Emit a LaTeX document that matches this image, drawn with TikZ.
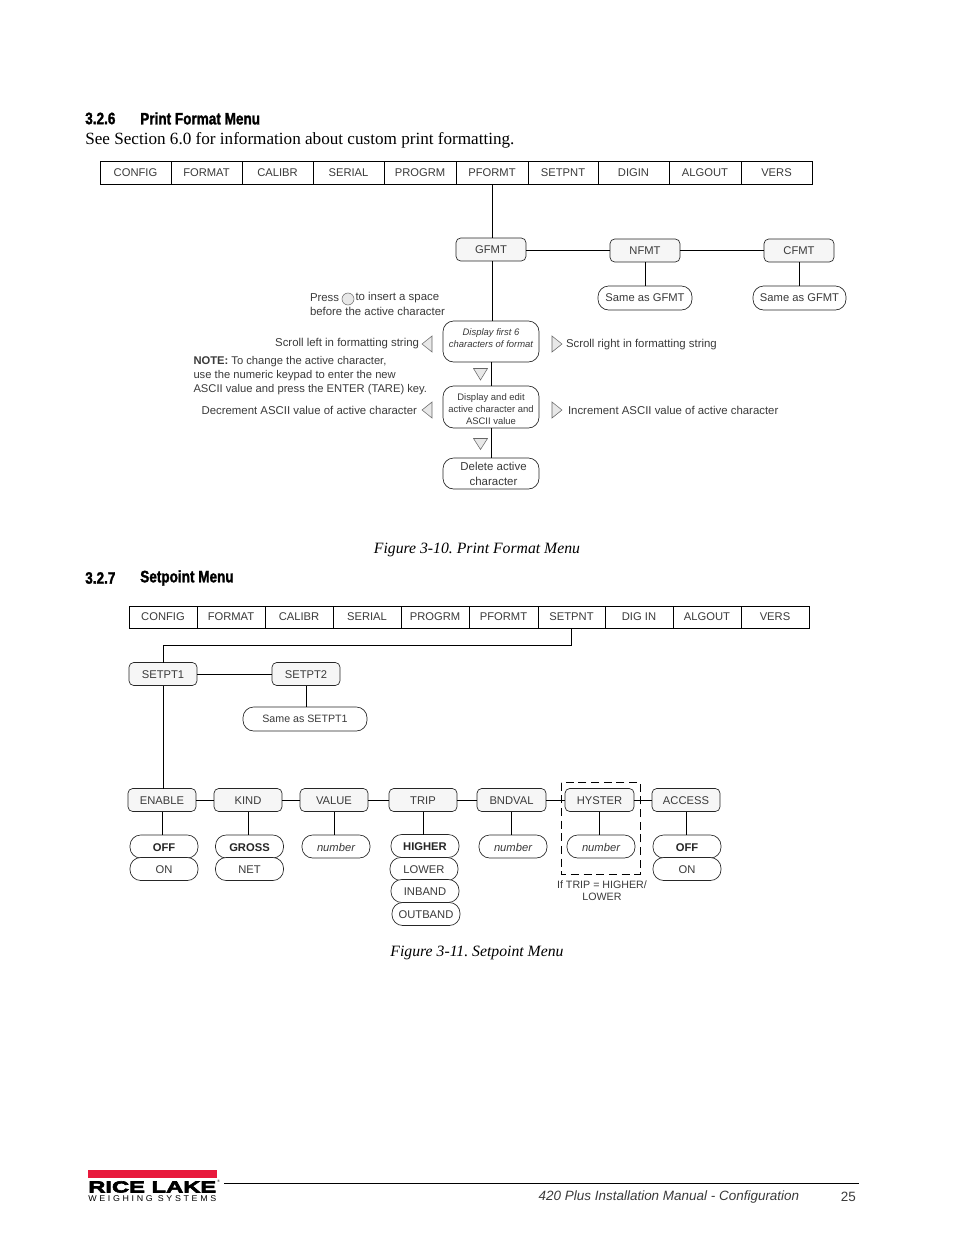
\documentclass[tikz,border=0pt]{standalone}
\usepackage{fontspec}
\usepackage{graphicx}
\setmainfont{Liberation Sans}
\newfontfamily\serifbody{Liberation Serif}
\newfontfamily\headfont[FakeStretch=0.82,FakeBold=1.6]{Liberation Sans Bold}
\newfontfamily\logofont[FakeStretch=1.5,FakeBold=4]{Liberation Sans Bold}
\newfontfamily\logosub[LetterSpace=30]{Liberation Sans}
\definecolor{ink}{HTML}{3A3A3A}
\definecolor{tri}{HTML}{E8E8E8}
\definecolor{boxfill}{HTML}{F6F6F6}
\definecolor{rlred}{HTML}{E8193C}
\frenchspacing
\tikzset{
  sz/.style 2 args={minimum width=#1*0.75pt,minimum height=#2*0.75pt},
  base/.style={inner sep=0pt,outer sep=0pt,align=center,text=ink,font=\fontsize{8.4}{10.5}\selectfont},
  cell/.style={base,draw=black,line width=0.6pt,fill=white},
  menubox/.style={base,draw=black!85,line width=0.5pt,fill=boxfill,rounded corners=3.5pt,sz={68}{23}},
  pill/.style={base,draw=black!85,line width=0.5pt,fill=white,rounded corners=8pt,sz={68}{23}},
  textlow/.style={text height=7.4pt,text depth=0pt},
  lab/.style={inner sep=0pt,outer sep=0pt,text=ink,font=\fontsize{8.55}{10.5}\selectfont},
  link/.style={draw=black,line width=0.6pt},
  keytri/.style={draw=black!60,fill=tri,line width=0.4pt},
  figcap/.style={inner sep=0pt,font=\serifbody\itshape\fontsize{11.8}{13}\selectfont},
  head/.style={inner sep=0pt,anchor=west,font=\headfont\fontsize{12.4}{14}\selectfont},
  boldv/.style={font=\bfseries\fontsize{8.4}{10.5}\selectfont,text=black!85},
  numv/.style={font=\itshape\fontsize{8.4}{10.5}\selectfont}
}
\begin{document}
\begin{tikzpicture}[x=0.75pt,y=-0.75pt]
\useasboundingbox (0,0) rectangle (954,1235);
% headings
\node[head] (h1a) at (85,118.5) {3.2.6};
\node[head] (h1b) at (140,118.5) {Print Format Menu};
\node[inner sep=0pt,anchor=west,font=\serifbody\fontsize{12.85}{14}\selectfont] (body) at (85,140) {See Section 6.0 for information about custom print formatting.};
% menu 1
\node[cell,sz={71}{23}] (a1) at (135.5,172.5) {CONFIG};
\node[cell,sz={71}{23}] (a2) at (206.5,172.5) {FORMAT};
\node[cell,sz={71}{23}] (a3) at (277.5,172.5) {CALIBR};
\node[cell,sz={71}{23}] (a4) at (348.5,172.5) {SERIAL};
\node[cell,sz={72}{23}] (a5) at (420,172.5) {PROGRM};
\node[cell,sz={72}{23}] (a6) at (492,172.5) {PFORMT};
\node[cell,sz={70}{23}] (a7) at (563,172.5) {SETPNT};
\node[cell,sz={71}{23}] (a8) at (633.5,172.5) {DIGIN};
\node[cell,sz={72}{23}] (a9) at (705,172.5) {ALGOUT};
\node[cell,sz={71}{23}] (a10) at (776.5,172.5) {VERS};
% tree 1
\node[menubox,sz={70}{23}] (gfmt) at (491,249.5) {GFMT};
\node[menubox,sz={70}{23}] (nfmt) at (645,250.5) {NFMT};
\node[menubox,sz={70}{23}] (cfmt) at (799,250.5) {CFMT};
\node[pill,sz={94}{24}] (sg1) at (645,298) {Same as GFMT};
\node[pill,sz={93}{24}] (sg2) at (799.5,298) {Same as GFMT};
\node[pill,sz={96}{41},font=\itshape\fontsize{7.1}{9}\selectfont] (disp) at (491,341.5) {Display first 6\\characters of format\rule[-4.5pt]{0pt}{0pt}};
\node[pill,sz={96}{42},font=\fontsize{7.1}{9}\selectfont] (edit) at (491,407) {\rule{0pt}{8.2pt}Display and edit\\active character and\\ASCII value};
\node[pill,sz={96}{31},font=\fontsize{8.6}{11.2}\selectfont] (del) at (491,473.5) {\hspace*{3.75pt}Delete active\\\hspace*{3.75pt}character};
\draw[link] (a6.south) -- (a6.south |- gfmt.north);
\draw[link] (gfmt.south -| a6.south) -- (disp.north -| a6.south);
\draw[link] (nfmt.west -| gfmt.east) -- (nfmt.west);
\draw[link] (nfmt.east) -- (cfmt.west);
\draw[link] (nfmt.south) -- (sg1.north);
\draw[link] (cfmt.south) -- (sg2.north -| cfmt.south);
\draw[link] (disp.south) -- (edit.north);
\draw[link] (edit.south) -- (del.north);
% key triangles
\filldraw[keytri] (473.5,368.5) -- (487.5,368.5) -- (480.5,380) -- cycle;
\filldraw[keytri] (473.5,438.5) -- (487.5,438.5) -- (480.5,449.5) -- cycle;
\filldraw[keytri] (432,336) -- (432,352) -- (422,344) -- cycle;
\filldraw[keytri] (432,402) -- (432,418) -- (422,410) -- cycle;
\filldraw[keytri] (552,336) -- (552,352) -- (562,344) -- cycle;
\filldraw[keytri] (552,402) -- (552,418) -- (562,410) -- cycle;
% notes
\node[lab,anchor=west] (press1) at (310,298) {Press};
\node[lab,anchor=west] (press2) at (355.5,298) {to insert a space};
\node[lab,anchor=west] (press3) at (310,311.5) {before the active character};
\draw[keytri] (348,299) circle[radius=6];
\node[lab,anchor=east] (sl) at (419,344) {Scroll left in formatting string};
\node[lab,anchor=west] (sr) at (566,345) {Scroll right in formatting string};
\node[lab,anchor=north west,align=left,font=\fontsize{8.4}{10.5}\selectfont] (note) at (193.5,356) {\textbf{NOTE:} To change the active character,\\use the numeric keypad to enter the new\\ASCII value and press the ENTER (TARE) key.};
\node[lab,anchor=east] (dec) at (417,410) {Decrement ASCII value of active character};
\node[lab,anchor=west] (inc) at (568,410) {Increment ASCII value of active character};
\node[figcap] (c1) at (477,549.5) {Figure 3-10. Print Format Menu};
% section 2
\node[head] (h2a) at (85,578) {3.2.7};
\node[head] (h2b) at (140,578) {Setpoint Menu};
\node[cell,sz={68}{22}] (b1) at (163,617) {CONFIG};
\node[cell,sz={68}{22}] (b2) at (231,617) {FORMAT};
\node[cell,sz={68}{22}] (b3) at (299,617) {CALIBR};
\node[cell,sz={68}{22}] (b4) at (367,617) {SERIAL};
\node[cell,sz={68}{22}] (b5) at (435,617) {PROGRM};
\node[cell,sz={69}{22}] (b6) at (503.5,617) {PFORMT};
\node[cell,sz={67}{22}] (b7) at (571.5,617) {SETPNT};
\node[cell,sz={68}{22}] (b8) at (639,617) {DIG IN};
\node[cell,sz={68}{22}] (b9) at (707,617) {ALGOUT};
\node[cell,sz={68}{22}] (b10) at (775,617) {VERS};
\node[menubox,textlow] (s1) at (163,674) {SETPT1};
\node[menubox,textlow] (s2) at (306,674) {SETPT2};
\node[pill,sz={124}{24},font=\fontsize{8}{10}\selectfont] (same) at (305,719) {Same as SETPT1};
\node[menubox,textlow] (en) at (162,800) {ENABLE};
\node[menubox,textlow] (ki) at (248,800) {KIND};
\node[menubox,textlow] (va) at (334,800) {VALUE};
\node[menubox,textlow] (tr) at (423,800) {TRIP};
\node[menubox,textlow,sz={69}{23}] (bn) at (511.5,800) {BNDVAL};
\node[menubox,textlow,sz={69}{23}] (hy) at (599.5,800) {HYSTER};
\node[menubox,textlow] (ac) at (686,800) {ACCESS};
\node[pill,textlow,boldv] (p1) at (164,846.5) {OFF};
\node[pill,textlow] (p1b) at (164,869) {ON};
\node[pill,textlow,boldv] (p2) at (249.5,846.5) {GROSS};
\node[pill,textlow] (p2b) at (249.5,869) {NET};
\node[pill,textlow,numv] (p3) at (336,846.5) {number};
\node[pill,textlow,boldv] (p4) at (425,846) {HIGHER};
\node[pill,textlow] (p4b) at (424,869) {LOWER};
\node[pill,textlow] (p4c) at (425,891) {INBAND};
\node[pill,textlow] (p4d) at (426,914) {OUTBAND};
\node[pill,textlow,numv] (p5) at (513,846.5) {number};
\node[pill,textlow,numv] (p6) at (601,846.5) {number};
\node[pill,textlow,boldv] (p7) at (687,846.5) {OFF};
\node[pill,textlow] (p7b) at (687,869) {ON};
\draw[link] (b7.south) -- ++(0,17) -| (s1.north);
\draw[link] (s1.east) -- (s2.west);
\draw[link] (s2.south) -- (same.north -| s2.south);
\draw[link] (s1.south) -- (en.north -| s1.south);
\foreach \l/\r in {en/ki,ki/va,va/tr,tr/bn,bn/hy,hy/ac} \draw[link] (\l.east) -- (\r.west);
\foreach \u/\d in {en/p1,ki/p2,va/p3,tr/p4,bn/p5,hy/p6,ac/p7} \draw[link] (\u.south) -- (\u.south |- \d.north);
\coordinate (dtl) at (561,782.5);
\coordinate (dbr) at (640.5,874);
\draw[black,line width=0.6pt,dash pattern=on 6pt off 3.5pt] (dtl) rectangle (dbr);
\node[lab,align=center,anchor=north,font=\fontsize{8}{9.4}\selectfont] (iftrip) at (602,880.5) {If TRIP = HIGHER/\\LOWER};
\node[figcap] (c2) at (477,952.5) {Figure 3-11. Setpoint Menu};
% footer
\fill[rlred] (88,1170) rectangle (216.5,1178);
\node[inner sep=0pt,anchor=north west] (logo1) at (88,1181) {\resizebox{96pt}{8.4pt}{\logofont RICE LAKE}};
\node[inner sep=0pt,anchor=north west] (logo2) at (88,1195) {\resizebox{96pt}{4.4pt}{\logosub\fontsize{6}{7}\selectfont WEIGHING  SYSTEMS}};
\node[inner sep=0pt,anchor=west,font=\fontsize{2.6}{3}\selectfont] (logo3) at (217,1181.5) {®};
\coordinate (fl) at (224,1183.5);
\coordinate (fr) at (858.5,1183.5);
\draw[black,line width=0.6pt] (fl) -- (fr);
\node[inner sep=0pt,anchor=east,font=\itshape\fontsize{10.1}{12}\selectfont,text=ink] (foot) at (799.5,1197) {420 Plus Installation Manual - Configuration};
\node[inner sep=0pt,anchor=east,font=\fontsize{10.1}{12}\selectfont,text=ink] (pg) at (856,1197) {25};
\end{tikzpicture}
\end{document}
